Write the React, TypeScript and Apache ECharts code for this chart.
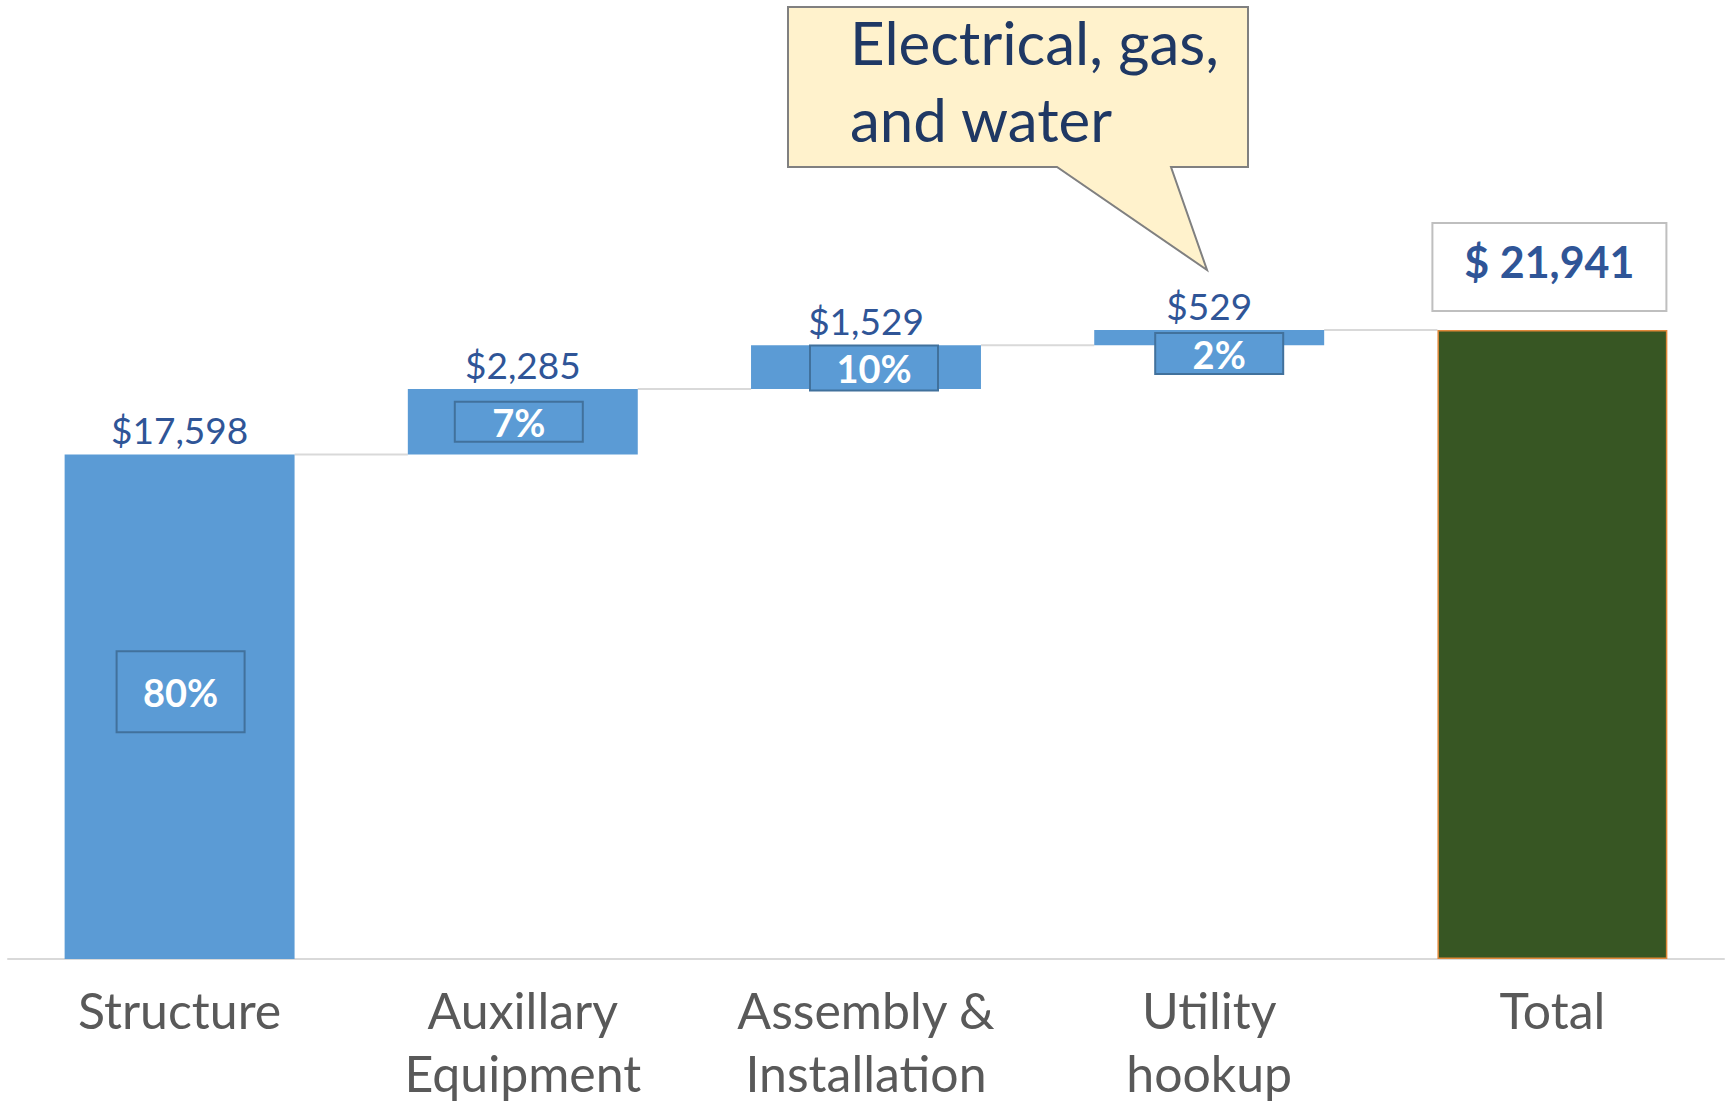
import React, { useEffect, useRef } from "react";
import * as echarts from "echarts";

const categories = ["Structure", "Auxillary\nEquipment", "Assembly &\nInstallation", "Utility\nhookup", "Total"];
const deltas = [17598, 2285, 1529, 529];
const totalValue = 21941;
const pctLabels = ["80%", "7%", "10%", "2%"];
const calloutLines = ["Electrical, gas,", "and water"];

const FONT = "Lato, 'Noto Sans', sans-serif";
const BAR_BLUE = "#5B9BD5";
const BOX_BORDER = "#41719C";
const LABEL_BLUE = "#2F5597";

// label box styling (positions/sizes only)
const pctOffsets = [[1, -15], [-4, 0], [8, 1], [10, 16]];
const pctHeights = [80, 39, 44, 40];

export default function App() {
  const ref = useRef<HTMLDivElement>(null);
  useEffect(() => {
    if (!ref.current) return;
    const chart = echarts.init(ref.current, null, { renderer: "svg" });

    const bases: number[] = [];
    const tops: number[] = [];
    let run = 0;
    deltas.forEach((d) => {
      bases.push(run);
      run += d;
      tops.push(run);
    });
    bases.push(0);
    const values = [...deltas, totalValue];

    const fmt = (v: number) => "$" + v.toLocaleString("en-US");

    const option: any = {
      animation: false,
      grid: { left: 8, right: 5, top: 99, bottom: 145, outerBoundsMode: "none", containLabel: false },
      xAxis: {
        type: "category",
        data: categories,
        axisLine: { lineStyle: { color: "#D9D9D9", width: 2 } },
        axisTick: { show: false },
        axisLabel: {
          interval: 0,
          color: "#595959",
          fontFamily: FONT,
          fontSize: 50,
          lineHeight: 63,
          margin: 19,
        },
      },
      yAxis: {
        type: "value",
        min: 0,
        max: 30000,
        show: false,
        splitLine: { show: false },
      },
      series: [
        {
          name: "base",
          type: "bar",
          stack: "w",
          barWidth: "67%",
          itemStyle: { color: "transparent" },
          emphasis: { disabled: true },
          data: bases,
        },
        {
          name: "value",
          type: "bar",
          stack: "w",
          barWidth: "67%",
          emphasis: { disabled: true },
          data: values.map((v, i) =>
            i < 4
              ? {
                  value: v,
                  itemStyle: { color: BAR_BLUE },
                  label: {
                    show: true,
                    position: "inside",
                    offset: pctOffsets[i],
                    formatter: pctLabels[i],
                    color: "#FFFFFF",
                    fontFamily: FONT,
                    fontWeight: "bold",
                    fontSize: 38,
                    backgroundColor: BAR_BLUE,
                    borderColor: BOX_BORDER,
                    borderWidth: 2,
                    width: 126,
                    height: pctHeights[i] - 1,
                    lineHeight: pctHeights[i] - 1,
                    align: "center",
                    verticalAlign: "middle",
                    padding: 0,
                  },
                }
              : {
                  value: v,
                  itemStyle: { color: "#375623", borderColor: "#E0883A", borderWidth: 1.5 },
                  label: { show: false },
                }
          ),
        },
        {
          name: "connectors",
          type: "custom",
          z: 1,
          data: tops.map((t, i) => [i, t]),
          renderItem: (params: any, api: any) => {
            const p = api.coord([api.value(0), api.value(1)]);
            const band = api.size([1, 0])[0];
            const half = (band * 0.67) / 2;
            return {
              type: "line",
              shape: { x1: p[0] + half, y1: p[1], x2: p[0] + band - half, y2: p[1] },
              style: { stroke: "#D9D9D9", lineWidth: 2 },
            };
          },
        },
        {
          name: "topLabels",
          type: "custom",
          z: 5,
          data: [...tops.map((t, i) => [i, t, deltas[i]]), [4, totalValue, totalValue]],
          renderItem: (params: any, api: any) => {
            const i = params.dataIndex;
            const p = api.coord([api.value(0), api.value(1)]);
            if (i < 4) {
              return {
                type: "text",
                x: p[0],
                y: p[1] - 25,
                style: {
                  text: fmt(api.value(2)),
                  fill: LABEL_BLUE,
                  fontFamily: FONT,
                  fontSize: 37,
                  align: "center",
                  verticalAlign: "middle",
                  textAlign: "center",
                  textVerticalAlign: "middle",
                },
              };
            }
            return {
              type: "group",
              children: [
                {
                  type: "rect",
                  shape: { x: p[0] - 120, y: p[1] - 107, width: 234, height: 88 },
                  style: { fill: "#FFFFFF", stroke: "#BFBFBF", lineWidth: 2 },
                },
                {
                  type: "text",
                  x: p[0] - 3,
                  y: p[1] - 69,
                  style: {
                    text: "$ " + api.value(2).toLocaleString("en-US"),
                    fill: LABEL_BLUE,
                    fontFamily: FONT,
                    fontWeight: "bold",
                    fontSize: 43,
                    align: "center",
                    verticalAlign: "middle",
                    textAlign: "center",
                    textVerticalAlign: "middle",
                  },
                },
              ],
            };
          },
        },
      ],
      graphic: [
        {
          type: "polygon",
          shape: {
            points: [
              [788, 7],
              [1248, 7],
              [1248, 167],
              [1171, 167],
              [1207, 270],
              [1057, 167],
              [788, 167],
            ],
          },
          style: { fill: "#FFF2CC", stroke: "#808080", lineWidth: 2 },
          z: 10,
        },
        {
          type: "text",
          x: 850,
          y: 42,
          z: 11,
          style: {
            text: calloutLines[0],
            fill: "#1F3864",
            fontFamily: FONT,
            fontSize: 60,
            align: "left",
            verticalAlign: "middle",
            textAlign: "left",
            textVerticalAlign: "middle",
          },
        },
        {
          type: "text",
          x: 850,
          y: 119,
          z: 11,
          style: {
            text: calloutLines[1],
            fill: "#1F3864",
            fontFamily: FONT,
            fontSize: 60,
            align: "left",
            verticalAlign: "middle",
            textAlign: "left",
            textVerticalAlign: "middle",
          },
        },
      ],
    };

    chart.setOption(option);
    return () => chart.dispose();
  }, []);

  return (
    <div
      ref={ref}
      style={{ position: "absolute", left: 0, top: 0, width: 1729, height: 1104, background: "#FFFFFF" }}
    />
  );
}
